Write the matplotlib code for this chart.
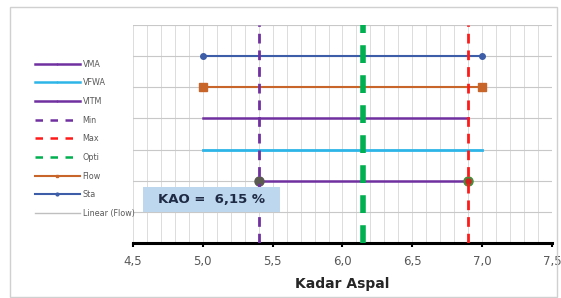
import matplotlib
matplotlib.use("Agg")
import matplotlib.pyplot as plt
from matplotlib.lines import Line2D
from matplotlib.patches import Rectangle
import numpy as np

# rows (y position) and ranges of kadar aspal that satisfy each criterion
series = ["Sta", "Flow", "VITM", "VFWA", "VMA"]
row_y = [6, 5, 4, 3, 2]
range_lo = [5.0, 5.0, 5.0, 5.0, 5.4]
range_hi = [7.0, 7.0, 6.9, 7.0, 6.9]
kadar_min = 5.4
kadar_max = 6.9
kadar_opti = 6.15
x_ticks = [4.5, 5.0, 5.5, 6.0, 6.5, 7.0, 7.5]
x_labels = ["4,5", "5,0", "5,5", "6,0", "6,5", "7,0", "7,5"]

PURPLE = "#7030A0"
CYAN = "#2EB5E8"
RED = "#FF1A1A"
GREEN = "#00B050"
ORANGE = "#C8652A"
BLUE = "#3E5DA8"

fig = plt.figure(figsize=(5.61, 2.98), dpi=100)
fig.patches.append(plt.Rectangle((0.018, 0.005), 0.975, 0.97, transform=fig.transFigure,
                                 fill=False, edgecolor="#d0d0d0", linewidth=1.0))
ax = fig.add_axes([0.237, 0.185, 0.747, 0.731])

ax.set_xlim(4.5, 7.5)
ax.set_ylim(0, 7)
ax.set_xticks(x_ticks)
ax.set_xticklabels(x_labels, fontsize=8.5, color="#595959")
ax.set_xticks(np.arange(4.5, 7.51, 0.1), minor=True)
ax.set_yticks(range(0, 8))
ax.tick_params(axis="y", left=False, labelleft=False)
ax.tick_params(axis="x", which="major", length=3, width=1.5, color="black", direction="out", pad=6)
ax.tick_params(axis="x", which="minor", length=0)
ax.grid(True, axis="x", which="minor", color="#dcdcdc", linewidth=0.7)
ax.grid(True, axis="x", which="major", color="#dcdcdc", linewidth=0.7)
ax.grid(True, axis="y", color="#c8c8c8", linewidth=0.8)
ax.set_axisbelow(True)
for s in ["top", "right", "left"]:
    ax.spines[s].set_visible(False)
ax.spines["bottom"].set_linewidth(2.2)
ax.spines["bottom"].set_color("black")

styles = {
    "Sta": dict(color=BLUE, marker="o", markersize=4, lw=1.5),
    "Flow": dict(color=ORANGE, marker="s", markersize=5.5, lw=1.5),
    "VITM": dict(color=PURPLE, marker=None, lw=1.8),
    "VFWA": dict(color=CYAN, marker=None, lw=2.0),
    "VMA": dict(color=PURPLE, marker=None, lw=1.8),
}
for name, y, lo, hi in zip(series, row_y, range_lo, range_hi):
    st = styles[name]
    ax.plot([lo, hi], [y, y], color=st["color"], lw=st["lw"], marker=st["marker"],
            markersize=st.get("markersize", 0), zorder=3, clip_on=False)
# end markers on the VMA row
ax.plot([range_lo[4]], [row_y[4]], "o", color="#5a5a50", markersize=6.5, zorder=4)
ax.plot([range_hi[4]], [row_y[4]], "o", color="#4a8a3a", markersize=6.5, zorder=4)
ax.plot([range_hi[4]], [row_y[4]], "o", color="#d02020", markersize=3.5, zorder=5)

ax.axvline(kadar_min, color=PURPLE, lw=2.0, ls=(0, (3.5, 2.5)), zorder=5)
ax.axvline(kadar_max, color=RED, lw=2.0, ls=(0, (3.5, 2.5)), zorder=5)
ax.axvline(kadar_opti, color=GREEN, lw=4.0, ls=(0, (3.2, 2.2)), zorder=5)

ax.add_patch(Rectangle((4.572, 1.0), 0.983, 0.8, facecolor="#BDD7EE", edgecolor="none", zorder=6))
ax.text(5.06, 1.4, "KAO =  6,15 %", fontsize=9.5, fontweight="bold", color="#1f2a44",
        ha="center", va="center", zorder=7)

ax.set_xlabel("Kadar Aspal", fontsize=10, fontweight="bold", color="#262626", labelpad=6)

handles = [
    Line2D([], [], color=PURPLE, lw=1.8, marker="|", markersize=2, label="VMA"),
    Line2D([], [], color=CYAN, lw=1.8, marker="|", markersize=2, label="VFWA"),
    Line2D([], [], color=PURPLE, lw=1.8, marker="|", markersize=2, label="VITM"),
    Line2D([], [], color=PURPLE, lw=1.8, ls=(0, (3, 3)), label="Min"),
    Line2D([], [], color=RED, lw=1.8, ls=(0, (3, 3)), label="Max"),
    Line2D([], [], color=GREEN, lw=1.8, ls=(0, (3, 3)), label="Opti"),
    Line2D([], [], color=ORANGE, lw=1.5, marker="s", markersize=2, label="Flow"),
    Line2D([], [], color=BLUE, lw=1.5, marker="o", markersize=2, label="Sta"),
    Line2D([], [], color="#bfbfbf", lw=1.0, label="Linear (Flow)"),
]
fig.legend(handles=handles, loc="upper left", bbox_to_anchor=(0.062, 0.80),
           frameon=False, fontsize=5.8, handlelength=5.6, handletextpad=0.35,
           labelspacing=1.2, labelcolor="#595959", borderaxespad=0, borderpad=0)

fig.savefig("out.png", dpi=100)
